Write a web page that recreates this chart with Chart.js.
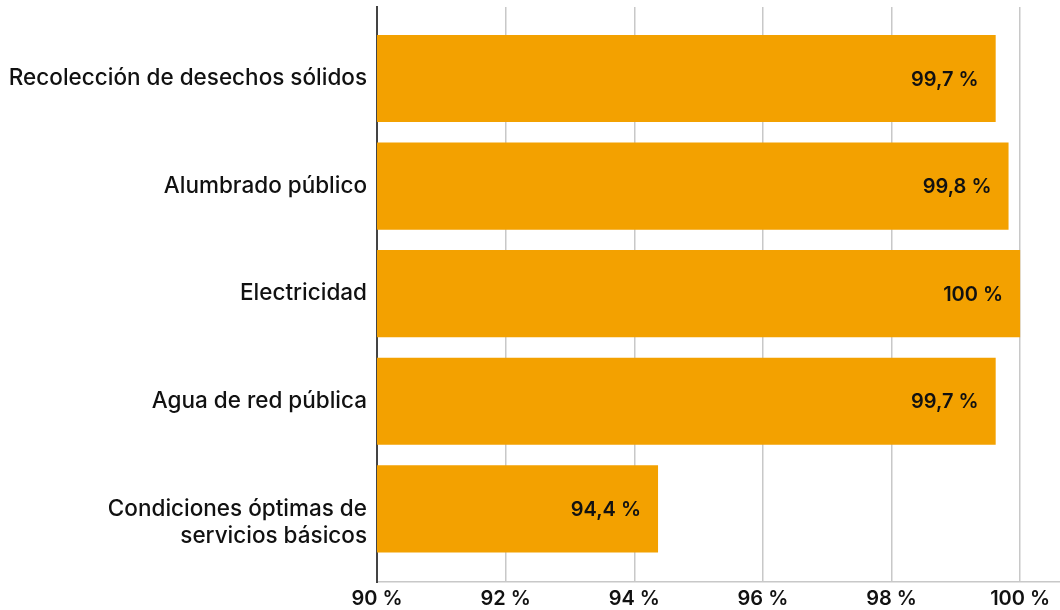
<!DOCTYPE html>
<html lang="es">
<head>
<meta charset="utf-8">
<title>Servicios básicos</title>
<script src="https://cdn.jsdelivr.net/npm/chart.js@4.4.1/dist/chart.umd.min.js"></script>
<style>
  html, body { margin: 0; padding: 0; background: #fff; }
  #wrap { width: 1060px; height: 610px; }
</style>
</head>
<body>
<div id="wrap"><canvas id="servicesChart"></canvas></div>
<script>
// categories (top to bottom)
const categories = [
  "Recolección de desechos sólidos",
  "Alumbrado público",
  "Electricidad",
  "Agua de red pública",
  ["", "Condiciones óptimas de", "servicios básicos"], // blank line nudges the block down like the original
];
// bar lengths (percent)
const values = [99.62, 99.82, 100, 99.62, 94.37];
// labels printed on the bars
const valueLabels = ["99,7 %", "99,8 %", "100 %", "99,7 %", "94,4 %"];
// x axis ticks
const xTicks = [90, 92, 94, 96, 98, 100];

const FONT = "Inter, 'Noto Sans', sans-serif";

// value labels inside the bar ends
const barLabels = {
  id: "barLabels",
  afterDatasetsDraw(chart) {
    const ctx = chart.ctx;
    const meta = chart.getDatasetMeta(0);
    ctx.save();
    ctx.font = "600 20px " + FONT;
    ctx.fillStyle = "#111";
    ctx.textAlign = "right";
    ctx.textBaseline = "middle";
    meta.data.forEach((bar, i) => {
      ctx.fillText(valueLabels[i], bar.x - 17, bar.y + 1);
    });
    ctx.restore();
  },
};

new Chart(document.getElementById("servicesChart"), {
  type: "bar",
  data: {
    datasets: [
      {
        data: values.map((v, i) => ({ x: v, y: i })),
        backgroundColor: "#F3A100",
        borderWidth: 0,
        barPercentage: 0.81,
        categoryPercentage: 1,
      },
    ],
  },
  options: {
    indexAxis: "y",
    responsive: true,
    maintainAspectRatio: false,
    animation: false,
    layout: { padding: { top: 7, right: 0, bottom: 0, left: 0 } },
    plugins: {
      legend: { display: false },
      tooltip: { enabled: false },
    },
    scales: {
      x: {
        type: "linear",
        min: 90,
        max: 100.62,
        afterBuildTicks: (scale) => {
          scale.ticks = xTicks.map((v) => ({ value: v }));
        },
        afterFit: (scale) => {
          scale.height = 28;
          scale.paddingLeft = 0;
          scale.paddingRight = 0;
        },
        grid: { color: "#c8c8c8", lineWidth: 1.5, drawTicks: false },
        border: { color: "#c8c8c8", width: 1.5 },
        ticks: {
          padding: 5,
          color: "#111",
          font: { family: FONT, size: 20, weight: "600" },
          callback: (v) => v + " %",
        },
      },
      y: {
        type: "linear",
        offset: false,
        reverse: true,
        min: -0.665,
        max: 4.68,
        afterBuildTicks: (scale) => {
          scale.ticks = categories.map((c, i) => ({ value: i }));
        },
        afterFit: (scale) => {
          scale.width = 377;
          scale.paddingTop = 0;
          scale.paddingBottom = 0;
        },
        grid: { display: false, drawTicks: false },
        border: { color: "#444", width: 2 },
        ticks: {
          padding: 10,
          color: "#111",
          font: { family: FONT, size: 22.5, weight: "500", lineHeight: 1.2 },
          callback: (v) => categories[v],
        },
      },
    },
  },
  plugins: [barLabels],
});
</script>
</body>
</html>
